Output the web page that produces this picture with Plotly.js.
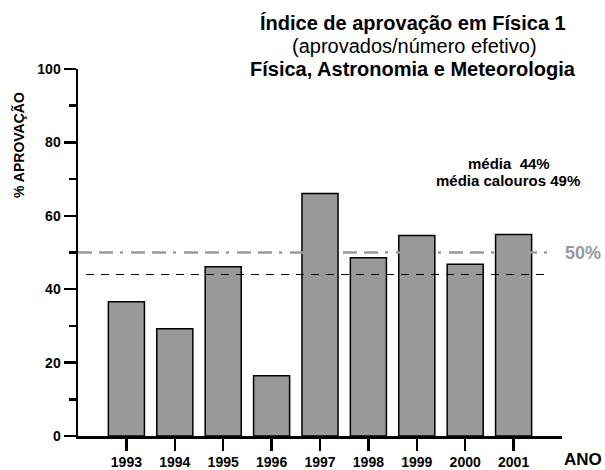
<!DOCTYPE html>
<html>
<head>
<meta charset="utf-8">
<script src="https://cdn.plot.ly/plotly-3.0.1.min.js"></script>
<style>html,body{margin:0;padding:0;background:#fff;}#chart{width:605px;height:470px;}</style>
</head>
<body>
<div id="chart"></div>
<script>
// ---- data ----
const years = [1993, 1994, 1995, 1996, 1997, 1998, 1999, 2000, 2001];
const yearLabels = ['1993', '1994', '1995', '1996', '1997', '1998', '1999', '2000', '2001'];
const approval = [36.6, 29.2, 46.1, 16.4, 66.1, 48.6, 54.6, 46.8, 54.9];
const meanApproval = [44];
const meanFreshmen = [49];
const reference = [50];

// ---- layout helpers (pixel -> paper) ----
const L = 78, R = 562, T = 69, B = 436, W = 605, H = 470;
const px = x => (x - L) / (R - L);
const py = y => (B - y) / (B - T);
const FONT = '"Liberation Sans", Arial, Helvetica, sans-serif';

const trace = {
  type: 'bar',
  x: years,
  y: approval,
  width: 0.745,
  marker: { color: '#999999', line: { color: '#000000', width: 1.5 } },
  hoverinfo: 'x+y'
};

const layout = {
  width: W, height: H,
  margin: { l: L, r: W - R, t: T, b: H - B, pad: 0 },
  paper_bgcolor: '#ffffff', plot_bgcolor: '#ffffff',
  showlegend: false,
  font: { family: FONT, color: '#000' },
  xaxis: {
    range: [1992, 2002], type: 'linear',
    tickvals: years, ticktext: yearLabels,
    showgrid: false, zeroline: false,
    showline: true, linecolor: '#000', linewidth: 2.5,
    ticks: 'outside', ticklen: 12, tickwidth: 2.5, tickcolor: '#000',
    tickfont: { family: FONT, size: 14, weight: 'bold', color: '#000' },
    fixedrange: true
  },
  yaxis: {
    range: [0, 100],
    tickvals: [0, 20, 40, 60, 80, 100],
    showgrid: false, zeroline: false,
    showline: true, linecolor: '#000', linewidth: 2.5,
    ticks: 'outside', ticklen: 12, tickwidth: 2.5, tickcolor: '#000',
    tickfont: { family: FONT, size: 14, weight: 'bold', color: '#000' },
    minor: { dtick: 10, tick0: 0, ticks: 'outside', ticklen: 7, tickwidth: 2.5, tickcolor: '#000' },
    fixedrange: true
  },
  shapes: [
    { type: 'line', xref: 'paper', yref: 'y', x0: px(78), x1: px(555), y0: reference[0], y1: reference[0],
      line: { color: '#999999', width: 2.5, dash: '14px,7px,14px,7px,3px,8px' }, layer: 'above' },
    { type: 'line', xref: 'paper', yref: 'y', x0: px(86), x1: px(549), y0: meanApproval[0], y1: meanApproval[0],
      line: { color: '#000000', width: 1.2, dash: '8px,7px' }, layer: 'above' }
  ],
  annotations: [
    { text: '<b>Índice de aprovação em Física 1</b>', xref: 'paper', yref: 'paper', x: px(413), y: py(23),
      xanchor: 'center', yanchor: 'middle', showarrow: false, borderpad: 0, font: { family: FONT, size: 20, color: '#000' } },
    { text: '(aprovados/número efetivo)', xref: 'paper', yref: 'paper', x: px(414), y: py(46),
      xanchor: 'center', yanchor: 'middle', showarrow: false, borderpad: 0, font: { family: FONT, size: 20, color: '#000' } },
    { text: '<b>Física, Astronomia e Meteorologia</b>', xref: 'paper', yref: 'paper', x: px(413), y: py(69),
      xanchor: 'center', yanchor: 'middle', showarrow: false, borderpad: 0, font: { family: FONT, size: 20, color: '#000' } },
    { text: '<b>% APROVAÇÃO</b>', xref: 'paper', yref: 'paper', x: px(18), y: py(145), textangle: -90,
      xanchor: 'center', yanchor: 'middle', showarrow: false, font: { family: FONT, size: 14, color: '#000' } },
    { text: '<b>ANO</b>', xref: 'paper', yref: 'paper', x: px(583), y: py(459),
      xanchor: 'center', yanchor: 'middle', showarrow: false, font: { family: FONT, size: 17, color: '#000' } },
    { text: '<b>' + reference[0] + '%</b>', xref: 'paper', yref: 'y', x: px(583), y: reference[0],
      xanchor: 'center', yanchor: 'middle', showarrow: false, font: { family: FONT, size: 18, color: '#999999' } },
    { text: '<b>média  ' + meanApproval[0] + '%</b>', xref: 'paper', yref: 'paper', x: px(509), y: py(163),
      xanchor: 'center', yanchor: 'middle', showarrow: false, font: { family: FONT, size: 15, color: '#000' } },
    { text: '<b>média calouros ' + meanFreshmen[0] + '%</b>', xref: 'paper', yref: 'paper', x: px(508), y: py(180),
      xanchor: 'center', yanchor: 'middle', showarrow: false, font: { family: FONT, size: 15, color: '#000' } }
  ]
};

Plotly.newPlot('chart', [trace], layout, { displayModeBar: false, staticPlot: true });
</script>
</body>
</html>
